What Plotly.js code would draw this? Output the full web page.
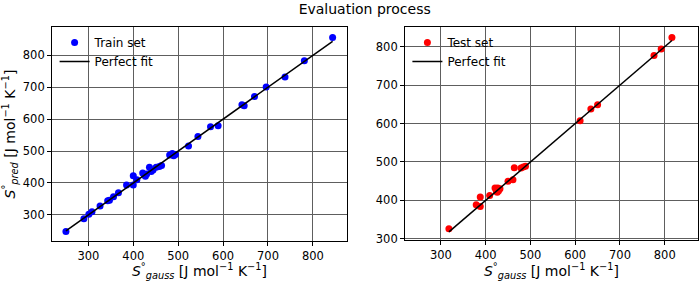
<!DOCTYPE html>
<html>
<head>
<meta charset="utf-8">
<script src="https://cdn.plot.ly/plotly-3.0.1.min.js"></script>
<style>
  html, body { margin: 0; padding: 0; background: #ffffff; }
  #chart { width: 700px; height: 281px; }
</style>
</head>
<body>
<div id="chart"></div>
<script>
// Training set: Gaussian-computed entropy vs. model prediction
const trainGauss = [250, 290, 301, 308, 326, 343, 347, 356, 367, 385, 400, 400, 408, 421, 425, 427, 430, 436, 440, 444, 451, 458, 463, 481, 487, 490, 494, 523, 544, 572, 589, 642, 647, 670, 696, 738, 781, 844];
const trainPred  = [248, 288, 302, 310, 328, 344, 346, 357, 369, 394, 394, 423, 410, 431, 425, 421, 428, 449, 436, 441, 449, 452, 455, 488, 492, 485, 489, 516, 546, 576, 579, 645, 642, 671, 701, 732, 783, 856];

// Test set
const testGauss = [318, 379, 388, 388, 409, 421, 424, 427, 429, 432, 426, 450, 461, 464, 479, 484, 489, 611, 635, 650, 776, 792, 816];
const testPred  = [326, 389, 409, 384, 413, 432, 424, 432, 425, 430, 421, 450, 454, 485, 484, 487, 489, 607, 638, 649, 777, 794, 824];

const FONT = 'DejaVu Sans, Liberation Sans, sans-serif';
const axisLabel = '<i>S</i><sup>°</sup><sub><i>gauss</i></sub> [J mol<sup>−1</sup> K<sup>−1</sup>]';
const yLabel = '<i>S</i><sup>°</sup><sub><i>pred</i></sub> [J mol<sup>−1</sup> K<sup>−1</sup>]';

// y = x reference line spanning each set's range
function fitLine(xs) {
  const lo = Math.min(...xs), hi = Math.max(...xs);
  return [lo, hi];
}
const trainFit = fitLine(trainGauss);
const testFit = fitLine(testGauss);

const traces = [
  { x: trainGauss, y: trainPred, type: 'scatter', mode: 'markers', name: 'Train set',
    marker: { color: '#0000ff', size: 7 }, xaxis: 'x', yaxis: 'y', legend: 'legend' },
  { x: trainFit, y: trainFit, type: 'scatter', mode: 'lines', name: 'Perfect fit',
    line: { color: '#000000', width: 1.5 }, xaxis: 'x', yaxis: 'y', legend: 'legend' },
  { x: testGauss, y: testPred, type: 'scatter', mode: 'markers', name: 'Test set',
    marker: { color: '#ff0000', size: 7 }, xaxis: 'x2', yaxis: 'y2', legend: 'legend2' },
  { x: testFit, y: testFit, type: 'scatter', mode: 'lines', name: 'Perfect fit',
    line: { color: '#000000', width: 1.5 }, xaxis: 'x2', yaxis: 'y2', legend: 'legend2' }
];

const baseAxis = {
  showline: true, linecolor: '#000000', linewidth: 1, mirror: true,
  showgrid: true, gridcolor: '#5e5e5e', gridwidth: 1,
  zeroline: false,
  ticks: 'outside', ticklen: 4, tickwidth: 1, tickcolor: '#000000',
  tickfont: { family: FONT, size: 11.5, color: '#000000' },
  tick0: 0, dtick: 100, automargin: false
};

const layout = {
  width: 700, height: 281,
  margin: { l: 0, r: 0, t: 0, b: 0 },
  paper_bgcolor: '#ffffff', plot_bgcolor: '#ffffff',
  font: { family: FONT, color: '#000000' },
  showlegend: true,
  hovermode: false,
  title: { text: 'Evaluation process', font: { family: FONT, size: 14, color: '#000000' },
           x: 0.521, xanchor: 'center', y: 0.968, yanchor: 'middle', yref: 'container' },
  xaxis: Object.assign({}, baseAxis, {
    domain: [0.0743, 0.4957], range: [219, 876], anchor: 'y',
    title: { text: axisLabel, font: { family: FONT, size: 14, color: '#000000' }, standoff: 9 }
  }),
  yaxis: Object.assign({}, baseAxis, {
    domain: [0.1423, 0.9039], range: [218, 889], anchor: 'x',
    title: { text: yLabel, font: { family: FONT, size: 14, color: '#000000' }, standoff: 4 }
  }),
  xaxis2: Object.assign({}, baseAxis, {
    domain: [0.5786, 0.997], range: [220, 874], anchor: 'y2',
    title: { text: axisLabel, font: { family: FONT, size: 14, color: '#000000' }, standoff: 9 }
  }),
  yaxis2: Object.assign({}, baseAxis, {
    domain: [0.1459, 0.9039], range: [297, 851], anchor: 'x2'
  }),
  legend: {
    x: 0.078, y: 0.9, xanchor: 'left', yanchor: 'top',
    bgcolor: 'rgba(0,0,0,0)', borderwidth: 0,
    font: { family: FONT, size: 12, color: '#000000' }
  },
  legend2: {
    x: 0.582, y: 0.9, xanchor: 'left', yanchor: 'top',
    bgcolor: 'rgba(0,0,0,0)', borderwidth: 0,
    font: { family: FONT, size: 12, color: '#000000' }
  }
};

Plotly.newPlot('chart', traces, layout, { staticPlot: true, displayModeBar: false });
</script>
</body>
</html>
